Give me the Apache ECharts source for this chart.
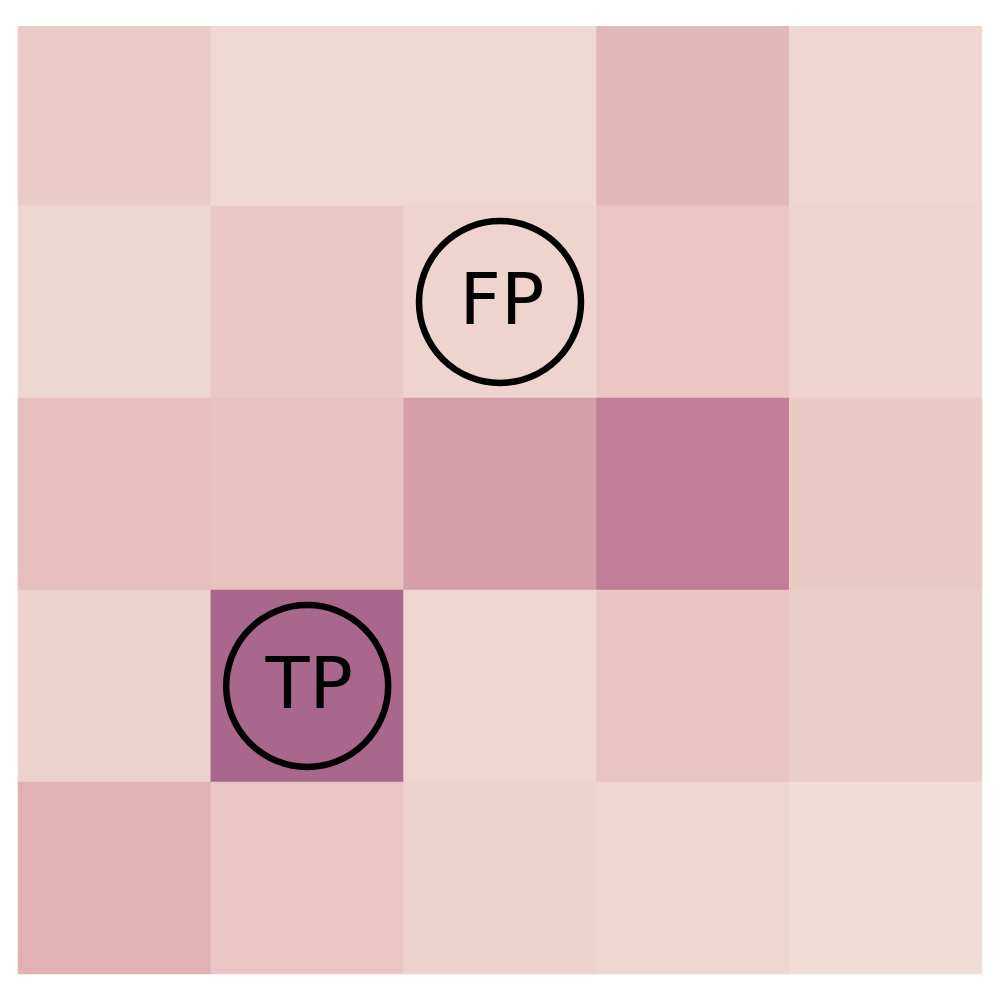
<!DOCTYPE html>
<html>
<head>
<meta charset="utf-8">
<script src="https://cdn.jsdelivr.net/npm/echarts@6/dist/echarts.min.js"></script>
<style>html,body{margin:0;padding:0;background:#fff}#c{width:1000px;height:1000px}</style>
</head>
<body>
<div id="c"></div>
<script>
const cols = ['c0', 'c1', 'c2', 'c3', 'c4'];
const rows = ['r0', 'r1', 'r2', 'r3', 'r4'];
const values = [
  [0.20, 0.08, 0.08, 0.35, 0.10],
  [0.09, 0.22, 0.12, 0.24, 0.12],
  [0.30, 0.27, 0.58, 0.80, 0.21],
  [0.14, 1.00, 0.11, 0.25, 0.17],
  [0.40, 0.24, 0.14, 0.10, 0.04]
];
const marks = [
  [2, 1, 'FP'],
  [1, 3, 'TP']
];
const palette = ['#F3E0DA', '#EBCBC6', '#E0B2B6', '#D59CA8', '#C27D98', '#A9678C'];

const heat = [];
values.forEach((row, r) => row.forEach((v, c) => heat.push([c, r, v])));

const chart = echarts.init(document.getElementById('c'), null, {renderer: 'canvas'});
chart.setOption({
  animation: false,
  backgroundColor: '#ffffff',
  grid: {left: 18, top: 14, width: 964, height: 960},
  xAxis: {type: 'category', data: cols, show: false},
  yAxis: {type: 'category', data: rows, inverse: true, show: false},
  visualMap: {show: false, min: 0, max: 1, seriesIndex: 0, inRange: {color: palette}},
  graphic: [{type: 'rect', z: 100, shape: {x: 0, y: 0, width: 1000, height: 26}, style: {fill: '#ffffff'}}],
  series: [
    {
      type: 'heatmap',
      data: heat,
      itemStyle: {borderWidth: 0},
      emphasis: {disabled: true}
    },
    {
      type: 'scatter',
      data: marks,
      symbol: 'circle',
      symbolSize: 162,
      z: 10,
      itemStyle: {color: 'rgba(0,0,0,0)', borderColor: '#000', borderWidth: 6.5, opacity: 1},
      label: {
        show: true,
        position: 'inside',
        formatter: p => p.data[2],
        color: '#000',
        fontSize: 72,
        fontFamily: 'DejaVu Sans',
        offset: [2, 3]
      },
      emphasis: {disabled: true}
    }
  ]
});
</script>
</body>
</html>
